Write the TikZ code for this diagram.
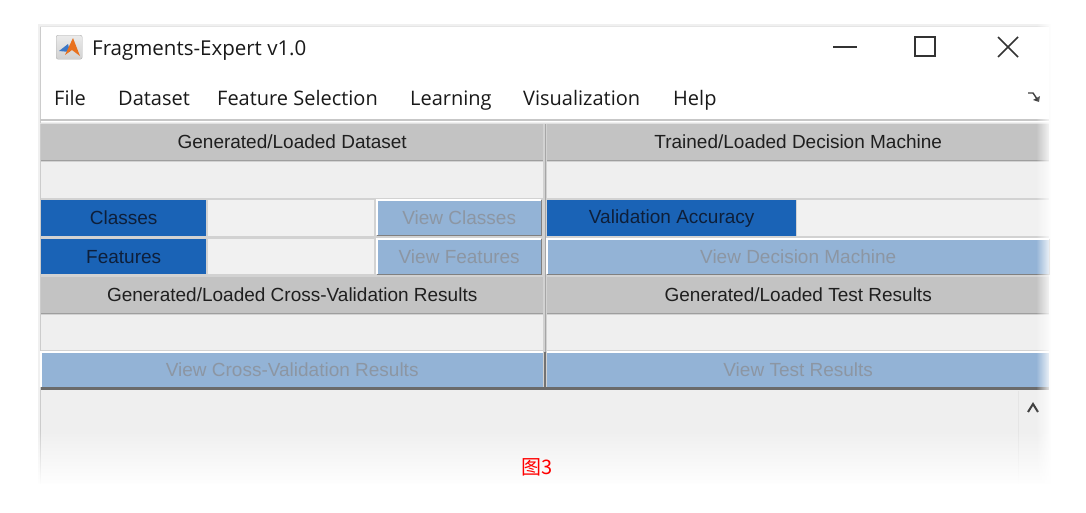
\documentclass[tikz,border=0pt]{standalone}
\usepackage{fontspec}
\setmainfont{Liberation Sans}
\newfontfamily\uifont{Open Sans}
\newfontfamily\cjkfont{Noto Sans CJK SC}
\usetikzlibrary{fadings}
\definecolor{hdrgray}{HTML}{C3C3C3}
\definecolor{emptygray}{HTML}{EFEFEF}
\definecolor{uiblue}{HTML}{1A63B6}
\definecolor{bluetext}{HTML}{0E1F3A}
\definecolor{btnblue}{HTML}{93B3D6}
\definecolor{btntext}{HTML}{8C96A3}
\definecolor{fieldgray}{HTML}{F1F1F1}
\definecolor{panelbg}{HTML}{D2D2D2}
\definecolor{mlorange}{HTML}{E8711E}
\definecolor{mlblue}{HTML}{3C78C8}
\tikzset{
  cell/.style={inner sep=0pt, anchor=north west, font=\fontsize{19}{22}\selectfont},
  hdr/.style={cell, fill=hdrgray, text=black!88},
  emptyrow/.style={cell, fill=emptygray},
  lbl/.style={cell, fill=uiblue, text=bluetext},
  field/.style={cell, fill=fieldgray},
  btn/.style={cell, fill=btnblue, text=btntext},
  menu/.style={anchor=base west, inner sep=0pt, font=\uifont\fontsize{20}{22}\selectfont, text=black!90},
  ctrl/.style={black!80, line width=1.6pt}
}
\newcommand{\bevel}[1]{%
  \draw[white, line width=1.5pt] (#1.south west) -- (#1.north west) -- (#1.north east);
  \draw[black!50, line width=1.5pt] (#1.north east) -- (#1.south east) -- (#1.south west);}
\newcommand{\hdrline}[1]{%
  \draw[black!38, line width=1.5pt] (#1.south west) -- (#1.south east);}
\begin{document}
\begin{tikzpicture}[x=1pt,y=-1pt]
\useasboundingbox (0,0) rectangle (1086,512);
\fill[white] (0,0) rectangle (1086,512);
% window
\fill[black!6] (38,24) rectangle (1051,484);
\fill[white] (40,26) rectangle (1049,122);
\draw[black!20, line width=0.8pt] (40,26) -- (40,484);
\draw[black!10, line width=0.8pt] (40,26) -- (1049,26);
% title bar
\node[inner sep=0pt, minimum width=26pt, minimum height=24pt, anchor=north west, rounded corners=2pt,
      draw=black!30, top color=black!8, bottom color=black!18] (icon) at (56,35) {};
\fill[mlblue] (59,51) -- (68,44) -- (70,52) -- cycle;
\fill[mlorange] (65,55) -- (73,38) -- (80,56) -- (72,50) -- cycle;
\node[anchor=base west, inner sep=0pt, font=\uifont\fontsize{20.5}{22}\selectfont, text=black!90] (title) at (92,55) {Fragments-Expert v1.0};
\coordinate (minA) at (833,47); \coordinate (minB) at (857,47);
\draw[ctrl] (minA) -- (minB);
\coordinate (maxA) at (915,37); \coordinate (maxB) at (935,56);
\draw[ctrl] (maxA) rectangle (maxB);
\coordinate (clA) at (998,37); \coordinate (clB) at (1018,57);
\coordinate (clC) at (998,57); \coordinate (clD) at (1018,37);
\draw[ctrl] (clA) -- (clB) (clC) -- (clD);
% menu bar
\node[menu] (mFile) at (54,105) {File};
\node[menu] (mData) at (118,105) {Dataset};
\node[menu] (mFeat) at (217,105) {Feature Selection};
\node[menu] (mLearn) at (410,105) {Learning};
\node[menu] (mVis) at (523,105) {Visualization};
\node[menu] (mHelp) at (673,105) {Help};
\coordinate (arA) at (1028,93); \coordinate (arB) at (1033,93); \coordinate (arC) at (1037,99);
\draw[black!75, line width=1.4pt] (arA) -- (arB) -- (arC);
\fill[black!75] (1039,102) -- (1033,100) -- (1040,96) -- cycle;
\draw[black!22, line width=1.2pt] (40,120) -- (1049,120);
\draw[black!12, line width=1pt] (40,123) -- (1049,123);
% panel background
\fill[panelbg] (41,124) rectangle (1049,390);
\draw[black!35, line width=1pt] (545,124) -- (545,388);
% row 1 headers
\node[hdr, minimum width=502pt, minimum height=36pt] (h1l) at (41,124) {Generated/Loaded Dataset};
\node[hdr, minimum width=502pt, minimum height=36pt] (h1r) at (547,124) {Trained/Loaded Decision Machine};
\hdrline{h1l}\hdrline{h1r}
% row 2
\node[emptyrow, minimum width=502pt, minimum height=36pt] (e1l) at (41,162) {};
\node[emptyrow, minimum width=502pt, minimum height=36pt] (e1r) at (547,162) {};
% row 3
\node[lbl, minimum width=165pt, minimum height=36pt] (cls) at (41,200) {Classes};
\node[field, minimum width=166pt, minimum height=36pt] (clsf) at (208,200) {};
\node[btn, minimum width=164pt, minimum height=35pt] (clsb) at (377,200) {View Classes};
\bevel{clsb}
\node[lbl, minimum width=249pt, minimum height=36pt] (vacc) at (547,200) {Validation Accuracy};
\node[field, minimum width=252pt, minimum height=36pt] (vaccf) at (797,200) {};
% row 4
\node[lbl, minimum width=165pt, minimum height=35pt] (feat) at (41,239) {Features};
\node[field, minimum width=166pt, minimum height=35pt] (featf) at (208,239) {};
\node[btn, minimum width=164pt, minimum height=35pt] (featb) at (377,239) {View Features};
\bevel{featb}
\node[btn, minimum width=502pt, minimum height=35pt] (vdm) at (547,239) {View Decision Machine};
\bevel{vdm}
% row 5 headers
\node[hdr, minimum width=502pt, minimum height=36pt] (h2l) at (41,277) {Generated/Loaded Cross-Validation Results};
\node[hdr, minimum width=502pt, minimum height=36pt] (h2r) at (547,277) {Generated/Loaded Test Results};
\hdrline{h2l}\hdrline{h2r}
% row 6
\node[emptyrow, minimum width=502pt, minimum height=35pt] (e2l) at (41,315) {};
\node[emptyrow, minimum width=502pt, minimum height=35pt] (e2r) at (547,315) {};
% row 7
\node[btn, minimum width=502pt, minimum height=35pt] (vcv) at (41,352) {View Cross-Validation Results};
\node[btn, minimum width=502pt, minimum height=35pt] (vtr) at (547,352) {View Test Results};
\draw[white, line width=1.5pt] (vcv.south west) -- (vcv.north west) -- (vcv.north east);
\draw[white, line width=1.5pt] (vtr.north west) -- (vtr.north east);
\draw[black!55, line width=1.2pt] (545,352) -- (545,388);
\draw[black!58, line width=3pt] (41,388.5) -- (1049,388.5);
% bottom panel
\fill[emptygray] (41,390) rectangle (1049,484);
\draw[black!10, line width=1pt] (1018,391) -- (1018,484);
\coordinate (caA) at (1028,412); \coordinate (caB) at (1033,404); \coordinate (caC) at (1038,412);
\draw[black!75, line width=2pt] (caA) -- (caB) -- (caC);
% fades
\fill[white, path fading=north] (30,430) rectangle (1060,486);
\fill[white] (30,486) rectangle (1060,512);
\fill[white, path fading=west] (1036,20) rectangle (1052,490);
\fill[white] (1052,0) rectangle (1086,512);
% caption
\node[inner sep=0pt, text=red, font=\cjkfont\fontsize{20}{22}\selectfont] (cap) at (537,467) {图3};
\end{tikzpicture}
\end{document}
